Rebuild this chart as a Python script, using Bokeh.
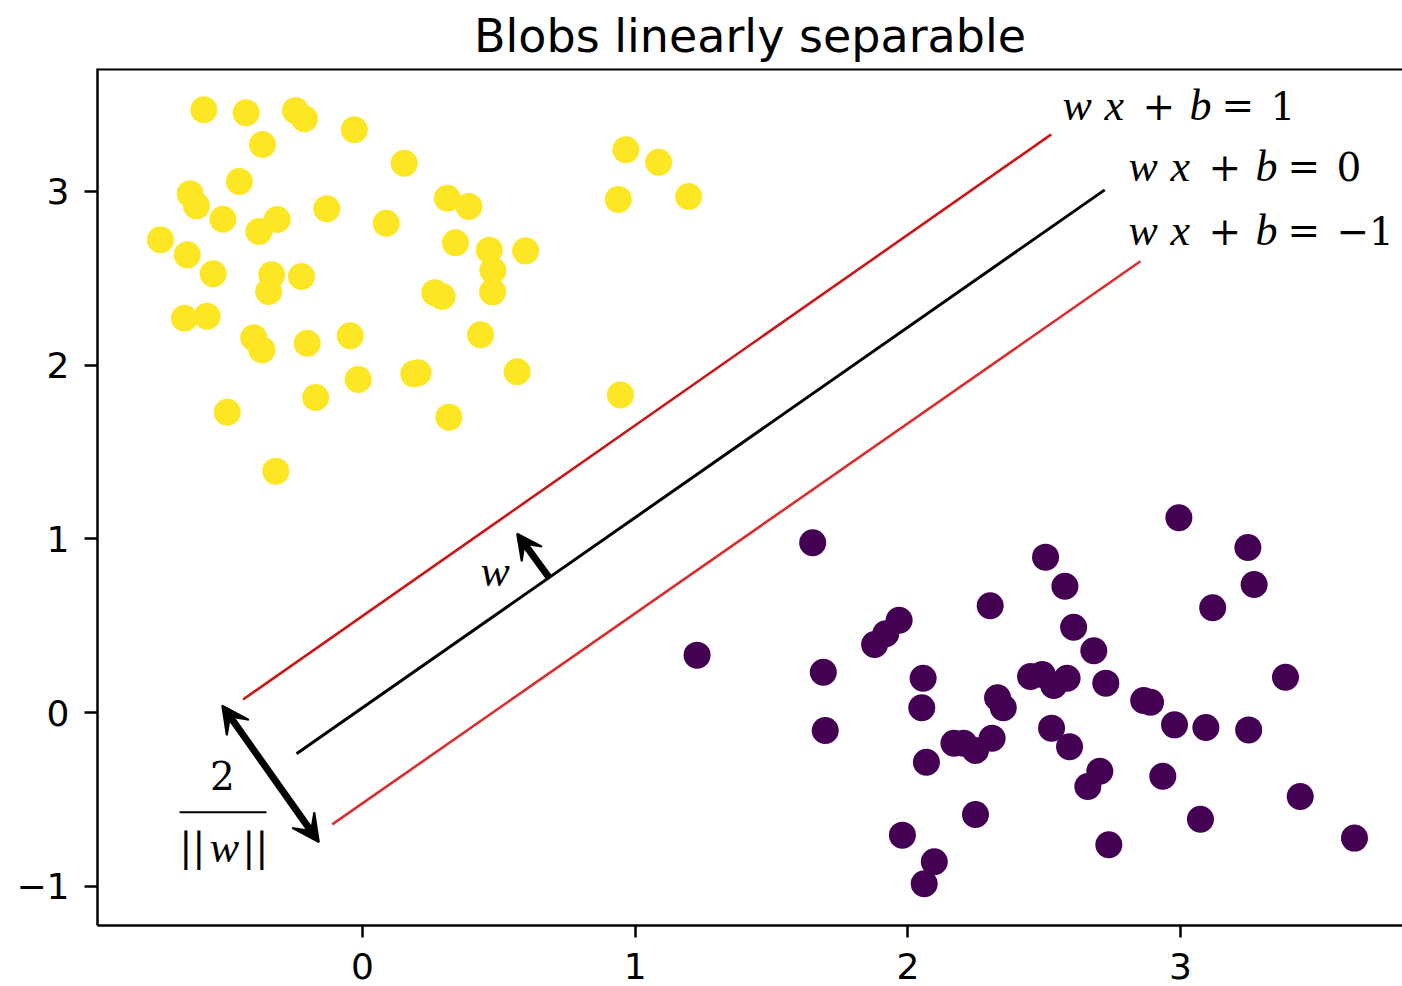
from bokeh.plotting import figure
from bokeh.models import Range1d, FixedTicker, Arrow, VeeHead, Span
from bokeh.core.properties import value
from bokeh.embed import file_html
from bokeh.resources import INLINE

# ---- data -------------------------------------------------------------
yellow_x = [-0.582, -0.427, -0.246, -0.213, -0.367, -0.030, 0.153, -0.452, -0.632, -0.609,
            -0.512, -0.131, -0.313, -0.380, 0.087, 0.311, 0.390, -0.741, -0.643, -0.548,
            -0.333, -0.344, -0.224, 0.341, 0.465, 0.598, 0.478, 0.477, 0.265, 0.292,
            -0.653, -0.570, -0.399, -0.369, -0.203, -0.045, 0.433, -0.016, 0.188, 0.204,
            0.567, -0.496, -0.172, 0.317, -0.318, 0.966, 1.086, 0.938, 1.196, 0.946]
yellow_y = [3.469, 3.452, 3.465, 3.417, 3.269, 3.354, 3.161, 3.056, 2.985, 2.916,
            2.839, 2.899, 2.837, 2.768, 2.816, 2.960, 2.912, 2.721, 2.634, 2.525,
            2.519, 2.423, 2.509, 2.703, 2.661, 2.657, 2.544, 2.421, 2.416, 2.394,
            2.269, 2.281, 2.157, 2.087, 2.125, 2.168, 2.174, 1.917, 1.949, 1.955,
            1.961, 1.728, 1.813, 1.700, 1.389, 3.239, 3.167, 2.953, 2.970, 1.828]

purple_x = [1.651, 1.227, 2.302, 1.968, 1.919, 1.878, 1.690, 2.056, 2.051, 1.697,
            2.329, 2.350, 2.169, 2.205, 2.248, 2.309, 2.068, 2.248, 1.980, 2.097,
            2.060, 2.994, 2.505, 3.247, 3.270, 2.576, 3.118, 2.608, 2.682, 2.450,
            2.493, 2.535, 2.584, 2.726, 3.385, 2.865, 2.890, 2.978, 3.093, 3.250,
            2.527, 2.593, 2.704, 2.660, 2.935, 3.439, 3.073, 2.737, 3.638]
purple_y = [0.977, 0.330, 0.614, 0.531, 0.453, 0.391, 0.232, 0.197, 0.027, -0.104,
            0.085, 0.027, -0.177, -0.177, -0.219, -0.148, -0.286, -0.587, -0.706, -0.859,
            -0.986, 1.121, 0.894, 0.950, 0.737, 0.727, 0.603, 0.491, 0.355, 0.207,
            0.219, 0.155, 0.197, 0.169, 0.203, 0.069, 0.059, -0.071, -0.086, -0.100,
            -0.090, -0.197, -0.338, -0.426, -0.367, -0.483, -0.614, -0.761, -0.723]

# margin lines (w x + b = 1, 0, -1): end points
upper_x = [-0.438, 2.526]
upper_y = [0.075, 3.327]
mid_x = [-0.242, 2.722]
mid_y = [-0.238, 3.008]
lower_x = [-0.111, 2.853]
lower_y = [-0.644, 2.597]

# w vector arrow and margin-width arrow
w_arrow = (0.683, 0.779, 0.567, 1.029)
margin_arrow = (-0.5145, 0.040, -0.160, -0.746)

x_ticks = [0, 1, 2, 3]
y_ticks = [-1, 0, 1, 2, 3]
tick_text = {-1: "\u22121", 0: "0", 1: "1", 2: "2", 3: "3"}

eq_x = [2.567, 2.809, 2.809]
eq_y = [3.493, 3.142, 2.774]
eq_rhs = ["1", "0", "\u22121"]

title = "Blobs linearly separable"

X0, X1 = -0.9719, 3.8141
Y0, Y1 = -1.2259, 3.7065

# ---- figure -----------------------------------------------------------
p = figure(width=1402, height=986,
           x_range=Range1d(X0, X1), y_range=Range1d(Y0, Y1),
           output_backend="svg", toolbar_location=None, title=title,
           min_border_left=97, min_border_right=0, min_border_top=68, min_border_bottom=61)
p.outline_line_color = None
p.xgrid.visible = False
p.ygrid.visible = False
p.background_fill_color = "white"
p.border_fill_color = "white"

p.title.text_font = "DejaVu Sans"
p.title.text_font_size = "46px"
p.title.text_font_style = "normal"
p.title.align = "center"
p.title.text_color = "black"
p.title.standoff = 12

for ax, ticks in ((p.xaxis[0], x_ticks), (p.yaxis[0], y_ticks)):
    ax.ticker = FixedTicker(ticks=ticks)
    ax.major_label_overrides = {t: tick_text[t] for t in ticks}
    ax.major_label_text_font = "DejaVu Sans"
    ax.major_label_text_font_size = "36px"
    ax.major_label_text_color = "black"
    ax.axis_line_width = 2.5
    ax.axis_line_color = "black"
    ax.major_tick_line_width = 2.5
    ax.major_tick_line_color = "black"
    ax.major_tick_in = 0
    ax.minor_tick_in = 0
    ax.minor_tick_out = 0
p.xaxis[0].major_tick_out = 12
p.xaxis[0].major_label_standoff = 15
p.xaxis[0].major_label_text_line_height = 0.9
p.yaxis[0].major_tick_out = 13
p.yaxis[0].major_label_standoff = 15

# top spine
p.add_layout(Span(location=Y1, dimension="width", line_color="black", line_width=4))

# points
p.scatter(yellow_x, yellow_y, size=27, fill_color="#fde725", line_color=None)
p.scatter(purple_x, purple_y, size=27, fill_color="#440154", line_color=None)

# lines
p.line(upper_x, upper_y, line_color="#cc1616", line_width=2.6)
p.line(mid_x, mid_y, line_color="black", line_width=3)
p.line(lower_x, lower_y, line_color="#d92e2e", line_width=2.6)

# arrows
def head(sz):
    return VeeHead(size=sz, fill_color="black", line_color="black", line_width=2)

p.add_layout(Arrow(end=head(25),
                   x_start=w_arrow[0], y_start=w_arrow[1], x_end=w_arrow[2], y_end=w_arrow[3],
                   line_width=7, line_color="black"))
p.add_layout(Arrow(start=head(27), end=head(27),
                   x_start=margin_arrow[0], y_start=margin_arrow[1],
                   x_end=margin_arrow[2], y_end=margin_arrow[3],
                   line_width=7, line_color="black"))

# equation labels: italic letters and upright operators
it_x, it_y, it_t, it_off = [], [], [], []
up_x, up_y, up_t, up_off = [], [], [], []
for ax_, ay_, rhs in zip(eq_x, eq_y, eq_rhs):
    for t, off in (("w", 0), ("x", 42), ("b", 127)):
        it_x.append(ax_); it_y.append(ay_); it_t.append(t); it_off.append(off)
    for t, off in (("+", 80), ("=", 159), (rhs, 208)):
        up_x.append(ax_); up_y.append(ay_); up_t.append(t); up_off.append(off)

p.text(it_x, it_y, text=it_t, x_offset=it_off, text_font=value("Liberation Serif"),
       text_font_style="italic", text_font_size="44px", text_color="black",
       text_align="left", text_baseline="alphabetic")
p.text(up_x, up_y, text=up_t, x_offset=up_off, text_font=value("DejaVu Serif"),
       text_font_size="39px", text_color="black",
       text_align="left", text_baseline="alphabetic")

# w label near the normal vector
p.text([0.433], [0.813], text=["w"], text_font=value("Liberation Serif"),
       text_font_style="italic", text_font_size="44px", text_color="black",
       text_align="left", text_baseline="alphabetic")

# fraction 2 / ||w||
frac_x = -0.514
p.text([frac_x], [-0.363], text=["2"], text_font=value("DejaVu Serif"),
       text_font_size="39px", text_color="black", text_align="center",
       text_baseline="alphabetic")
p.line([-0.671, -0.352], [-0.574, -0.574], line_color="black", line_width=2)
p.text([frac_x, frac_x], [-0.775, -0.775], text=["||", "||"], x_offset=[-30, 33],
       text_font=value("DejaVu Serif"), text_font_size="39px", text_color="black",
       text_align="center", text_baseline="alphabetic")
p.text([frac_x], [-0.775], text=["w"], x_offset=[2],
       text_font=value("Liberation Serif"), text_font_style="italic",
       text_font_size="44px", text_color="black", text_align="center",
       text_baseline="alphabetic")

open("out.html", "w").write(file_html(p, INLINE))
